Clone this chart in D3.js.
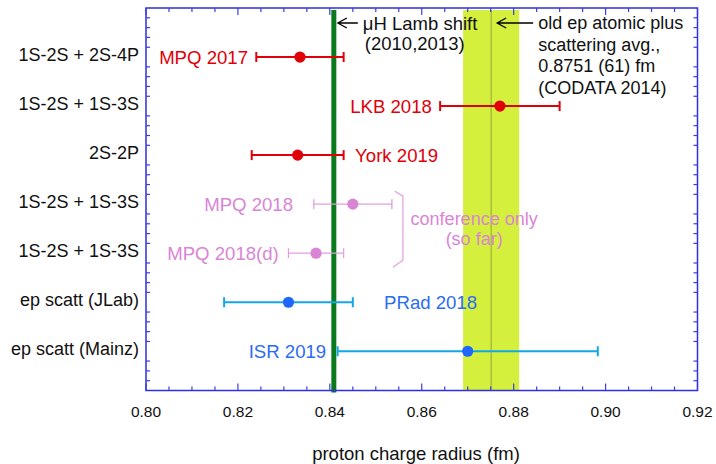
<!DOCTYPE html>
<html>
<head>
<meta charset="utf-8">
<script src="https://cdn.jsdelivr.net/npm/d3@7"></script>
<style>
  body { margin: 0; background: #fff; }
  text { font-family: "Liberation Sans", Arial, Helvetica, sans-serif; }
</style>
</head>
<body>
<div id="chart"></div>
<script>
/* Proton charge radius measurements */

const categories = ["1S-2S + 2S-4P", "1S-2S + 1S-3S", "2S-2P", "1S-2S + 1S-3S",
                    "1S-2S + 1S-3S", "ep scatt (JLab)", "ep scatt (Mainz)"];
const experiments = ["MPQ 2017", "LKB 2018", "York 2019", "MPQ 2018",
                     "MPQ 2018(d)", "PRad 2018", "ISR 2019"];
const radius = [0.8335, 0.877, 0.833, 0.845, 0.837, 0.831, 0.870];
const errors = [0.0095, 0.013, 0.010, 0.0085, 0.006, 0.014, 0.0283];
const kind = ["H", "H", "H", "conf", "conf", "ep", "ep"];
// where each experiment name sits (fm) and on which side of it
const labelAt = [0.8222, 0.8622, 0.8455, 0.8320, 0.8289, 0.8518, 0.8392];
const labelSide = ["end", "end", "start", "end", "end", "start", "end"];
const xTicks = [0.80, 0.82, 0.84, 0.86, 0.88, 0.90, 0.92];

const muH = 0.84087;
const codata = 0.8751, codataErr = 0.0061;

const width = 716, height = 464;

const colors = {
    H: { point: "#e00008", bar: "#e00008", text: "#e00008" },
    conf: { point: "#d985d6", bar: "#e0a0dd", text: "#d985d6" },
    ep: { point: "#1f66ff", bar: "#12a8e6", text: "#2a6cf2" }
};

let svg = d3.select("#chart")
    .append("svg")
    .attr("width", width)
    .attr("height", height);

let x = d3.scaleLinear()
    .domain([0.80, 0.92])
    .range([146, 697.5]);

let y = d3.scaleLinear()
    .domain([0, 7.8])
    .range([8, 390.5]);

const rows = categories.map((c, i) => i + 1);

// CODATA band
svg.append("rect")
    .attr("x", x(codata - codataErr))
    .attr("y", y(0) + 2)
    .attr("width", x(codata + codataErr) - x(codata - codataErr))
    .attr("height", y(7.8) - y(0) - 2)
    .attr("fill", "#d5f03c");

svg.append("line")
    .attr("x1", x(codata)).attr("x2", x(codata))
    .attr("y1", y(0) + 2).attr("y2", y(7.8))
    .attr("stroke", "#8fa63a")
    .attr("stroke-width", 1);

// muonic hydrogen line
svg.append("line")
    .attr("x1", x(muH)).attr("x2", x(muH))
    .attr("y1", y(0) + 2).attr("y2", y(7.8) + 2)
    .attr("stroke", "#0b7a1c")
    .attr("stroke-width", 5);

// frame
svg.append("rect")
    .attr("x", x(0.80))
    .attr("y", y(0))
    .attr("width", x(0.92) - x(0.80))
    .attr("height", y(7.8) - y(0))
    .attr("fill", "none")
    .attr("stroke", "#2f2fe0")
    .attr("stroke-width", 1.5);

// ticks on all four sides, pointing inward
let minorX = d3.range(0, 25).map(i => 0.80 + i * 0.005);
let tickG = svg.append("g").attr("stroke", "#3b3be6").attr("stroke-width", 1.2);

minorX.forEach((v, i) => {
    let len = i % 4 === 0 ? 7 : 4;
    tickG.append("line")
        .attr("x1", x(v)).attr("x2", x(v))
        .attr("y1", y(7.8)).attr("y2", y(7.8) - len);
    tickG.append("line")
        .attr("x1", x(v)).attr("x2", x(v))
        .attr("y1", y(0)).attr("y2", y(0) + len);
});

let minorY = d3.range(1, 39).map(i => i * 0.2).filter((v, i) => (i + 1) % 5 !== 0);
minorY.forEach(v => {
    tickG.append("line")
        .attr("x1", x(0.80)).attr("x2", x(0.80) + 4)
        .attr("y1", y(v)).attr("y2", y(v));
    tickG.append("line")
        .attr("x1", x(0.92)).attr("x2", x(0.92) - 4)
        .attr("y1", y(v)).attr("y2", y(v));
});

// x tick labels
svg.selectAll(".xlab")
    .data(xTicks)
    .join("text")
    .attr("class", "xlab")
    .attr("x", d => x(d))
    .attr("y", 411)
    .attr("text-anchor", "middle")
    .attr("dominant-baseline", "central")
    .style("font-size", "15.5px")
    .style("fill", "#111")
    .text(d => d.toFixed(2));

svg.append("text")
    .attr("x", 416)
    .attr("y", 453)
    .attr("text-anchor", "middle")
    .attr("dominant-baseline", "central")
    .style("font-size", "18.5px")
    .style("fill", "#111")
    .text("proton charge radius (fm)");

// category labels
svg.selectAll(".cat")
    .data(categories)
    .join("text")
    .attr("class", "cat")
    .attr("x", 139)
    .attr("y", (d, i) => y(rows[i]) - 2)
    .attr("text-anchor", "end")
    .attr("dominant-baseline", "central")
    .style("font-size", "18px")
    .style("fill", "#111")
    .text(d => d);

// error bars
let bar = svg.selectAll(".bar")
    .data(radius)
    .join("g")
    .attr("class", "bar")
    .attr("stroke", (d, i) => colors[kind[i]].bar)
    .attr("stroke-width", (d, i) => kind[i] === "conf" ? 1.3 : 2);

bar.append("line")
    .attr("x1", (d, i) => x(d - errors[i]))
    .attr("x2", (d, i) => x(d + errors[i]))
    .attr("y1", (d, i) => y(rows[i]))
    .attr("y2", (d, i) => y(rows[i]));

bar.append("line")
    .attr("x1", (d, i) => x(d - errors[i]))
    .attr("x2", (d, i) => x(d - errors[i]))
    .attr("y1", (d, i) => y(rows[i]) - 5)
    .attr("y2", (d, i) => y(rows[i]) + 5);

bar.append("line")
    .attr("x1", (d, i) => x(d + errors[i]))
    .attr("x2", (d, i) => x(d + errors[i]))
    .attr("y1", (d, i) => y(rows[i]) - 5)
    .attr("y2", (d, i) => y(rows[i]) + 5);

svg.selectAll(".pt")
    .data(radius)
    .join("circle")
    .attr("class", "pt")
    .attr("cx", d => x(d))
    .attr("cy", (d, i) => y(rows[i]))
    .attr("r", 5.6)
    .attr("fill", (d, i) => colors[kind[i]].point);

// experiment names
svg.selectAll(".exp")
    .data(experiments)
    .join("text")
    .attr("class", "exp")
    .attr("x", (d, i) => x(labelAt[i]))
    .attr("y", (d, i) => y(rows[i]))
    .attr("text-anchor", (d, i) => labelSide[i])
    .attr("dominant-baseline", "central")
    .style("font-size", "18.6px")
    .style("fill", (d, i) => colors[kind[i]].text)
    .text(d => d);

// conference bracket and note
let bx = x(0.8559);
svg.append("path")
    .attr("d", `M${bx - 8},${y(4) - 13} L${bx},${y(4) - 8} L${bx},${y(5) + 7} L${bx - 10},${y(5) + 14}`)
    .attr("fill", "none")
    .attr("stroke", "#e0a0dd")
    .attr("stroke-width", 1.2);

svg.selectAll(".conf")
    .data(["conference only", "(so far)"])
    .join("text")
    .attr("class", "conf")
    .attr("x", x(0.8714))
    .attr("y", (d, i) => y(4.5) - 10 + i * 20)
    .attr("text-anchor", "middle")
    .attr("dominant-baseline", "central")
    .style("font-size", "18px")
    .style("fill", colors.conf.text)
    .text(d => d);

// arrows with notes
function arrow(x0, x1, yy) {
    svg.append("path")
        .attr("d", `M${x1},${yy} L${x0},${yy} M${x0 + 9},${yy - 5} L${x0},${yy} L${x0 + 9},${yy + 5}`)
        .attr("fill", "none")
        .attr("stroke", "#000")
        .attr("stroke-width", 1.3);
}

arrow(x(muH) + 4, x(muH) + 24, 23);
arrow(x(codata) + 6, x(codata) + 42, 23);

svg.selectAll(".muh")
    .data(["\u03bcH Lamb shift", "(2010,2013)"])
    .join("text")
    .attr("class", "muh")
    .attr("x", (d, i) => x(muH) + 29 + i * 2)
    .attr("y", (d, i) => 23 + i * 20.5)
    .attr("dominant-baseline", "central")
    .style("font-size", "18.5px")
    .style("fill", "#111")
    .text(d => d);

svg.selectAll(".cod")
    .data(["old ep atomic plus", "scattering avg.,", "0.8751 (61) fm", "(CODATA 2014)"])
    .join("text")
    .attr("class", "cod")
    .attr("x", x(codata) + 47)
    .attr("y", (d, i) => 23 + i * 21.7)
    .attr("dominant-baseline", "central")
    .style("font-size", "18px")
    .style("fill", "#111")
    .text(d => d);
</script>
</body>
</html>
